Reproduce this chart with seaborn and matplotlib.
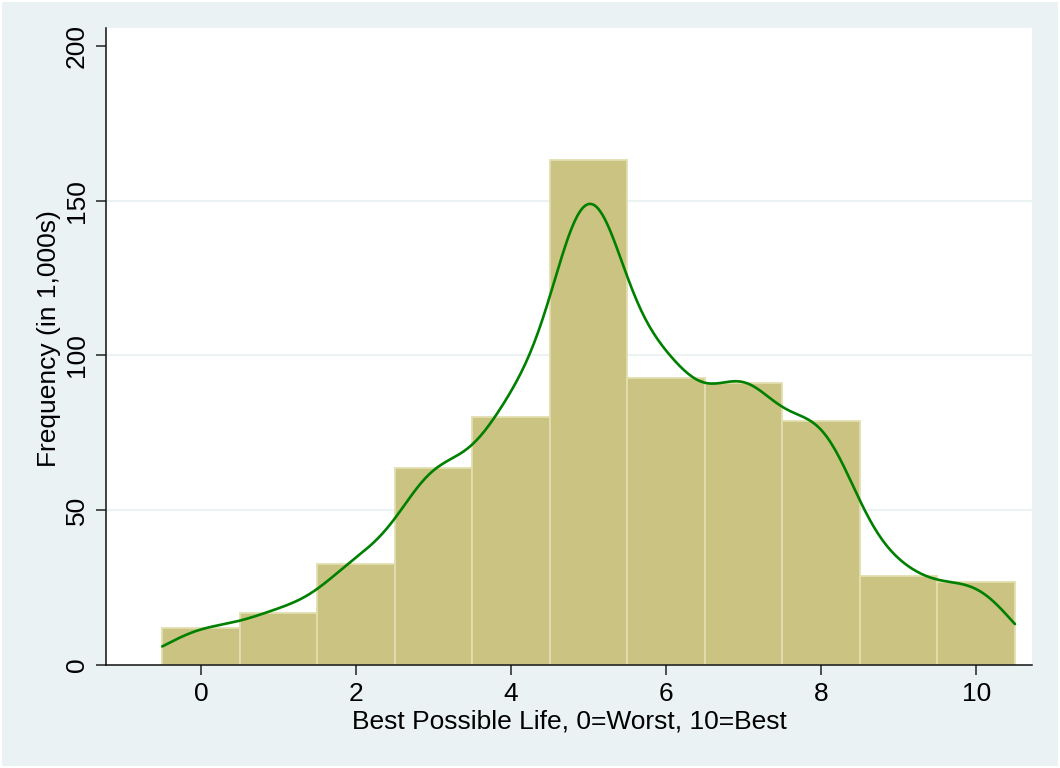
import numpy as np
import pandas as pd
import matplotlib
matplotlib.use("Agg")
import matplotlib.pyplot as plt
from matplotlib.patches import Rectangle
import seaborn as sns

# ---- data ----
scores = [0, 1, 2, 3, 4, 5, 6, 7, 8, 9, 10]
freq_thousands = [12.1, 16.9, 32.6, 63.5, 80.2, 163.2, 92.8, 91.2, 78.9, 28.8, 26.8]
x_ticks = [0, 2, 4, 6, 8, 10]
y_ticks = [0, 50, 100, 150, 200]
x_label = "Best Possible Life, 0=Worst, 10=Best"
y_label = "Frequency (in 1,000s)"
KDE_BANDWIDTH = 0.5  # kernel bandwidth in score units

df = pd.DataFrame({"score": scores, "freq": freq_thousands})

sns.set_style("ticks")
plt.rcParams["font.family"] = ["Liberation Sans", "DejaVu Sans"]

BG = "#EAF2F3"
BAR = "#CBC381"
BAR_EDGE = "#E2DEAF"
GREEN = "#008000"

fig = plt.figure(figsize=(10.6, 7.68), dpi=100, facecolor="white")
# graph region with thin white outer frame
fig.patches.append(Rectangle((2 / 1060, 2 / 768), 1056 / 1060, 764 / 768,
                             transform=fig.transFigure, facecolor=BG,
                             edgecolor="none", zorder=-10))
ax = fig.add_axes([106 / 1060, 103 / 768, 926 / 1060, 637 / 768])
ax.set_facecolor("white")

# bandwidth factor so that the gaussian kernel has KDE_BANDWIDTH std
w = np.asarray(freq_thousands) / np.sum(freq_thousands)
xs = np.asarray(scores, dtype=float)
m = np.sum(w * xs)
var = np.sum(w * (xs - m) ** 2) / (1 - np.sum(w ** 2))
bw_factor = KDE_BANDWIDTH / np.sqrt(var)

sns.histplot(
    data=df, x="score", weights="freq", discrete=True, stat="count",
    kde=True,
    kde_kws=dict(bw_method=bw_factor, cut=2, clip=(-0.5, 10.5), gridsize=400),
    line_kws=dict(linewidth=1.9),
    color=BAR, alpha=1, edgecolor=BAR_EDGE, linewidth=1.3, ax=ax,
)
for ln in ax.lines:
    ln.set_color(GREEN)
    ln.set_zorder(5)

ax.set_xlim(-1.226, 10.72)
ax.set_ylim(0, 205.8)
ax.set_xticks(x_ticks)
ax.set_yticks(y_ticks)
ax.set_xticklabels([str(t) for t in x_ticks], fontsize=19, color="black")
ax.set_yticklabels([str(t) for t in y_ticks], fontsize=19, rotation=90,
                   va="center", color="black")
ax.tick_params(axis="both", direction="out", length=7.5, width=1.1,
               color="#222222", pad=5)

ax.set_axisbelow(True)
ax.yaxis.grid(True, color=BG, linewidth=1.5)
ax.xaxis.grid(False)
gl = ax.yaxis.get_gridlines()
gl[0].set_visible(False)
gl[-1].set_visible(False)

for s in ["top", "right"]:
    ax.spines[s].set_visible(False)
for s in ["left", "bottom"]:
    ax.spines[s].set_color("#111111")
    ax.spines[s].set_linewidth(1.1)

ax.set_xlabel(x_label, fontsize=19, labelpad=2, color="black")
ax.set_ylabel(y_label, fontsize=19, labelpad=2.5, color="black")
ax.yaxis.label.set_y(0.5126)

fig.savefig("out.png", dpi=100, facecolor="white")
